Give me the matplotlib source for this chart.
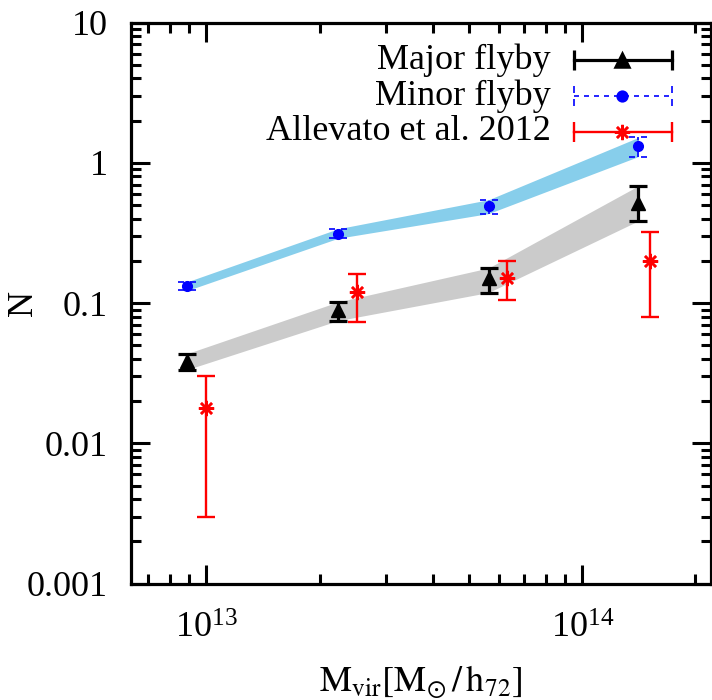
import matplotlib
matplotlib.use("Agg")
import matplotlib.pyplot as plt
from matplotlib.path import Path
from matplotlib.ticker import LogLocator, FuncFormatter, NullFormatter

plt.rcParams["font.family"] = ["Liberation Serif", "DejaVu Serif"]
plt.rcParams["mathtext.fontset"] = "stix"
plt.rcParams["font.size"] = 26

# Major flyby (simulation)
x_major = [8.9e12, 2.24e13, 5.63e13, 1.41e14]
n_major = [0.0384, 0.0899, 0.151, 0.517]
major_lo = [0.0336, 0.0750, 0.119, 0.386]
major_hi = [0.0437, 0.102, 0.178, 0.686]

# Minor flyby (simulation)
x_minor = [8.9e12, 2.24e13, 5.63e13, 1.41e14]
n_minor = [0.132, 0.313, 0.489, 1.32]
minor_lo = [0.123, 0.290, 0.435, 1.11]
minor_hi = [0.142, 0.339, 0.546, 1.52]

# Allevato et al. 2012
x_alle = [1.0e13, 2.51e13, 6.3e13, 1.51e14]
n_alle = [0.018, 0.12, 0.15, 0.2]
alle_lo = [0.003, 0.0735, 0.106, 0.08]
alle_hi = [0.03, 0.16, 0.20, 0.32]

labels = ["Major flyby", "Minor flyby", "Allevato et al. 2012"]

# dashed cap markers (gnuplot-style dashed error bars)
dash_h = Path([(-1, 0), (-0.3, 0), (0.3, 0), (1, 0)],
              [Path.MOVETO, Path.LINETO, Path.MOVETO, Path.LINETO])
dash_v = Path([(0, -1), (0, -0.3), (0, 0.3), (0, 1)],
              [Path.MOVETO, Path.LINETO, Path.MOVETO, Path.LINETO])


def yerr(n, lo, hi):
    return [[a - b for a, b in zip(n, lo)], [b - a for a, b in zip(n, hi)]]


fig = plt.figure(figsize=(7.12, 7.0), dpi=100)
ax = fig.add_axes([0.184, 0.1664, 0.8146, 0.8012])

ax.fill_between(x_minor, minor_lo, minor_hi, color="#87ceeb", lw=0, zorder=1)
ax.fill_between(x_major, major_lo, major_hi, color="#cbcbcb", lw=0, zorder=1)

ax.errorbar(x_major, n_major, yerr=yerr(n_major, major_lo, major_hi), fmt="^",
            color="black", ms=10, elinewidth=2.3, capsize=6.5, capthick=2.3, zorder=3)

eb = ax.errorbar(x_minor, n_minor, yerr=yerr(n_minor, minor_lo, minor_hi), fmt="o",
                 color="blue", ms=7, elinewidth=1.2, capsize=0, zorder=3)
eb[2][0].set_linestyle((0, (3, 2)))
ax.plot(x_minor, minor_lo, ls="none", marker=dash_h, ms=13, mew=1.2,
        color="blue", mfc="none", zorder=3)
ax.plot(x_minor, minor_hi, ls="none", marker=dash_h, ms=13, mew=1.2,
        color="blue", mfc="none", zorder=3)

ax.errorbar(x_alle, n_alle, yerr=yerr(n_alle, alle_lo, alle_hi), fmt="none",
            ecolor="red", elinewidth=1.7, capsize=6.5, capthick=1.7, zorder=3)
ax.plot(x_alle, n_alle, ls="none", marker=(8, 2, 0), ms=11, mew=1.8,
        color="red", zorder=4)

ax.set_xscale("log")
ax.set_yscale("log")
ax.set_xlim(6.3e12, 2.2e14)
ax.set_ylim(1e-3, 10)

ax.xaxis.set_major_locator(LogLocator(base=10))
ax.xaxis.set_minor_locator(LogLocator(base=10, subs=range(2, 10)))
ax.yaxis.set_major_locator(LogLocator(base=10))
ax.yaxis.set_minor_locator(LogLocator(base=10, subs=range(2, 10)))
ax.yaxis.set_major_formatter(FuncFormatter(lambda v, p: f"{v:g}"))
ax.xaxis.set_minor_formatter(NullFormatter())
ax.yaxis.set_minor_formatter(NullFormatter())

ax.tick_params(which="both", direction="in", top=True, right=True, width=2.2)
ax.tick_params(which="major", length=14)
ax.tick_params(which="minor", length=7)
ax.tick_params(axis="x", which="major", pad=21)
ax.tick_params(axis="y", which="major", pad=17)
for s in ax.spines.values():
    s.set_linewidth(2.3)

ax.set_xlabel(r"$\mathrm{M_{vir}[M_{\odot}\,/\,h_{72}]}$")
ax.xaxis.set_label_coords(0.5, -0.142)
ax.set_ylabel("N")
ax.yaxis.set_label_coords(-0.157, 0.5)

# gnuplot-style key at top right
rows = [0.9335, 0.8693, 0.8052]
x0, x1, xm = 0.7638, 0.9328, 0.8466
styles = [
    dict(color="black", lw=2.3, ls="-", marker="^", ms=10, cap="|", cms=14),
    dict(color="blue", lw=1.2, ls=(0, (3, 3)), marker="o", ms=7, cap=dash_v, cms=14),
    dict(color="red", lw=1.7, ls="-", marker=(8, 2, 0), ms=11, cap="|", cms=14),
]
for y, lab, st in zip(rows, labels, styles):
    ax.text(0.7241, y, lab, transform=ax.transAxes, ha="right", va="center")
    ax.plot([x0, x1], [y, y], transform=ax.transAxes, color=st["color"],
            lw=st["lw"], ls=st["ls"], zorder=5)
    ax.plot([x0, x1], [y, y], transform=ax.transAxes, ls="none", marker=st["cap"],
            ms=st["cms"], mew=st["lw"], color=st["color"], mfc="none", zorder=5)
    ax.plot([xm], [y], transform=ax.transAxes, ls="none", marker=st["marker"],
            ms=st["ms"], mew=1.8, color=st["color"], zorder=6)

fig.savefig("out.png", dpi=100)
plt.close(fig)
